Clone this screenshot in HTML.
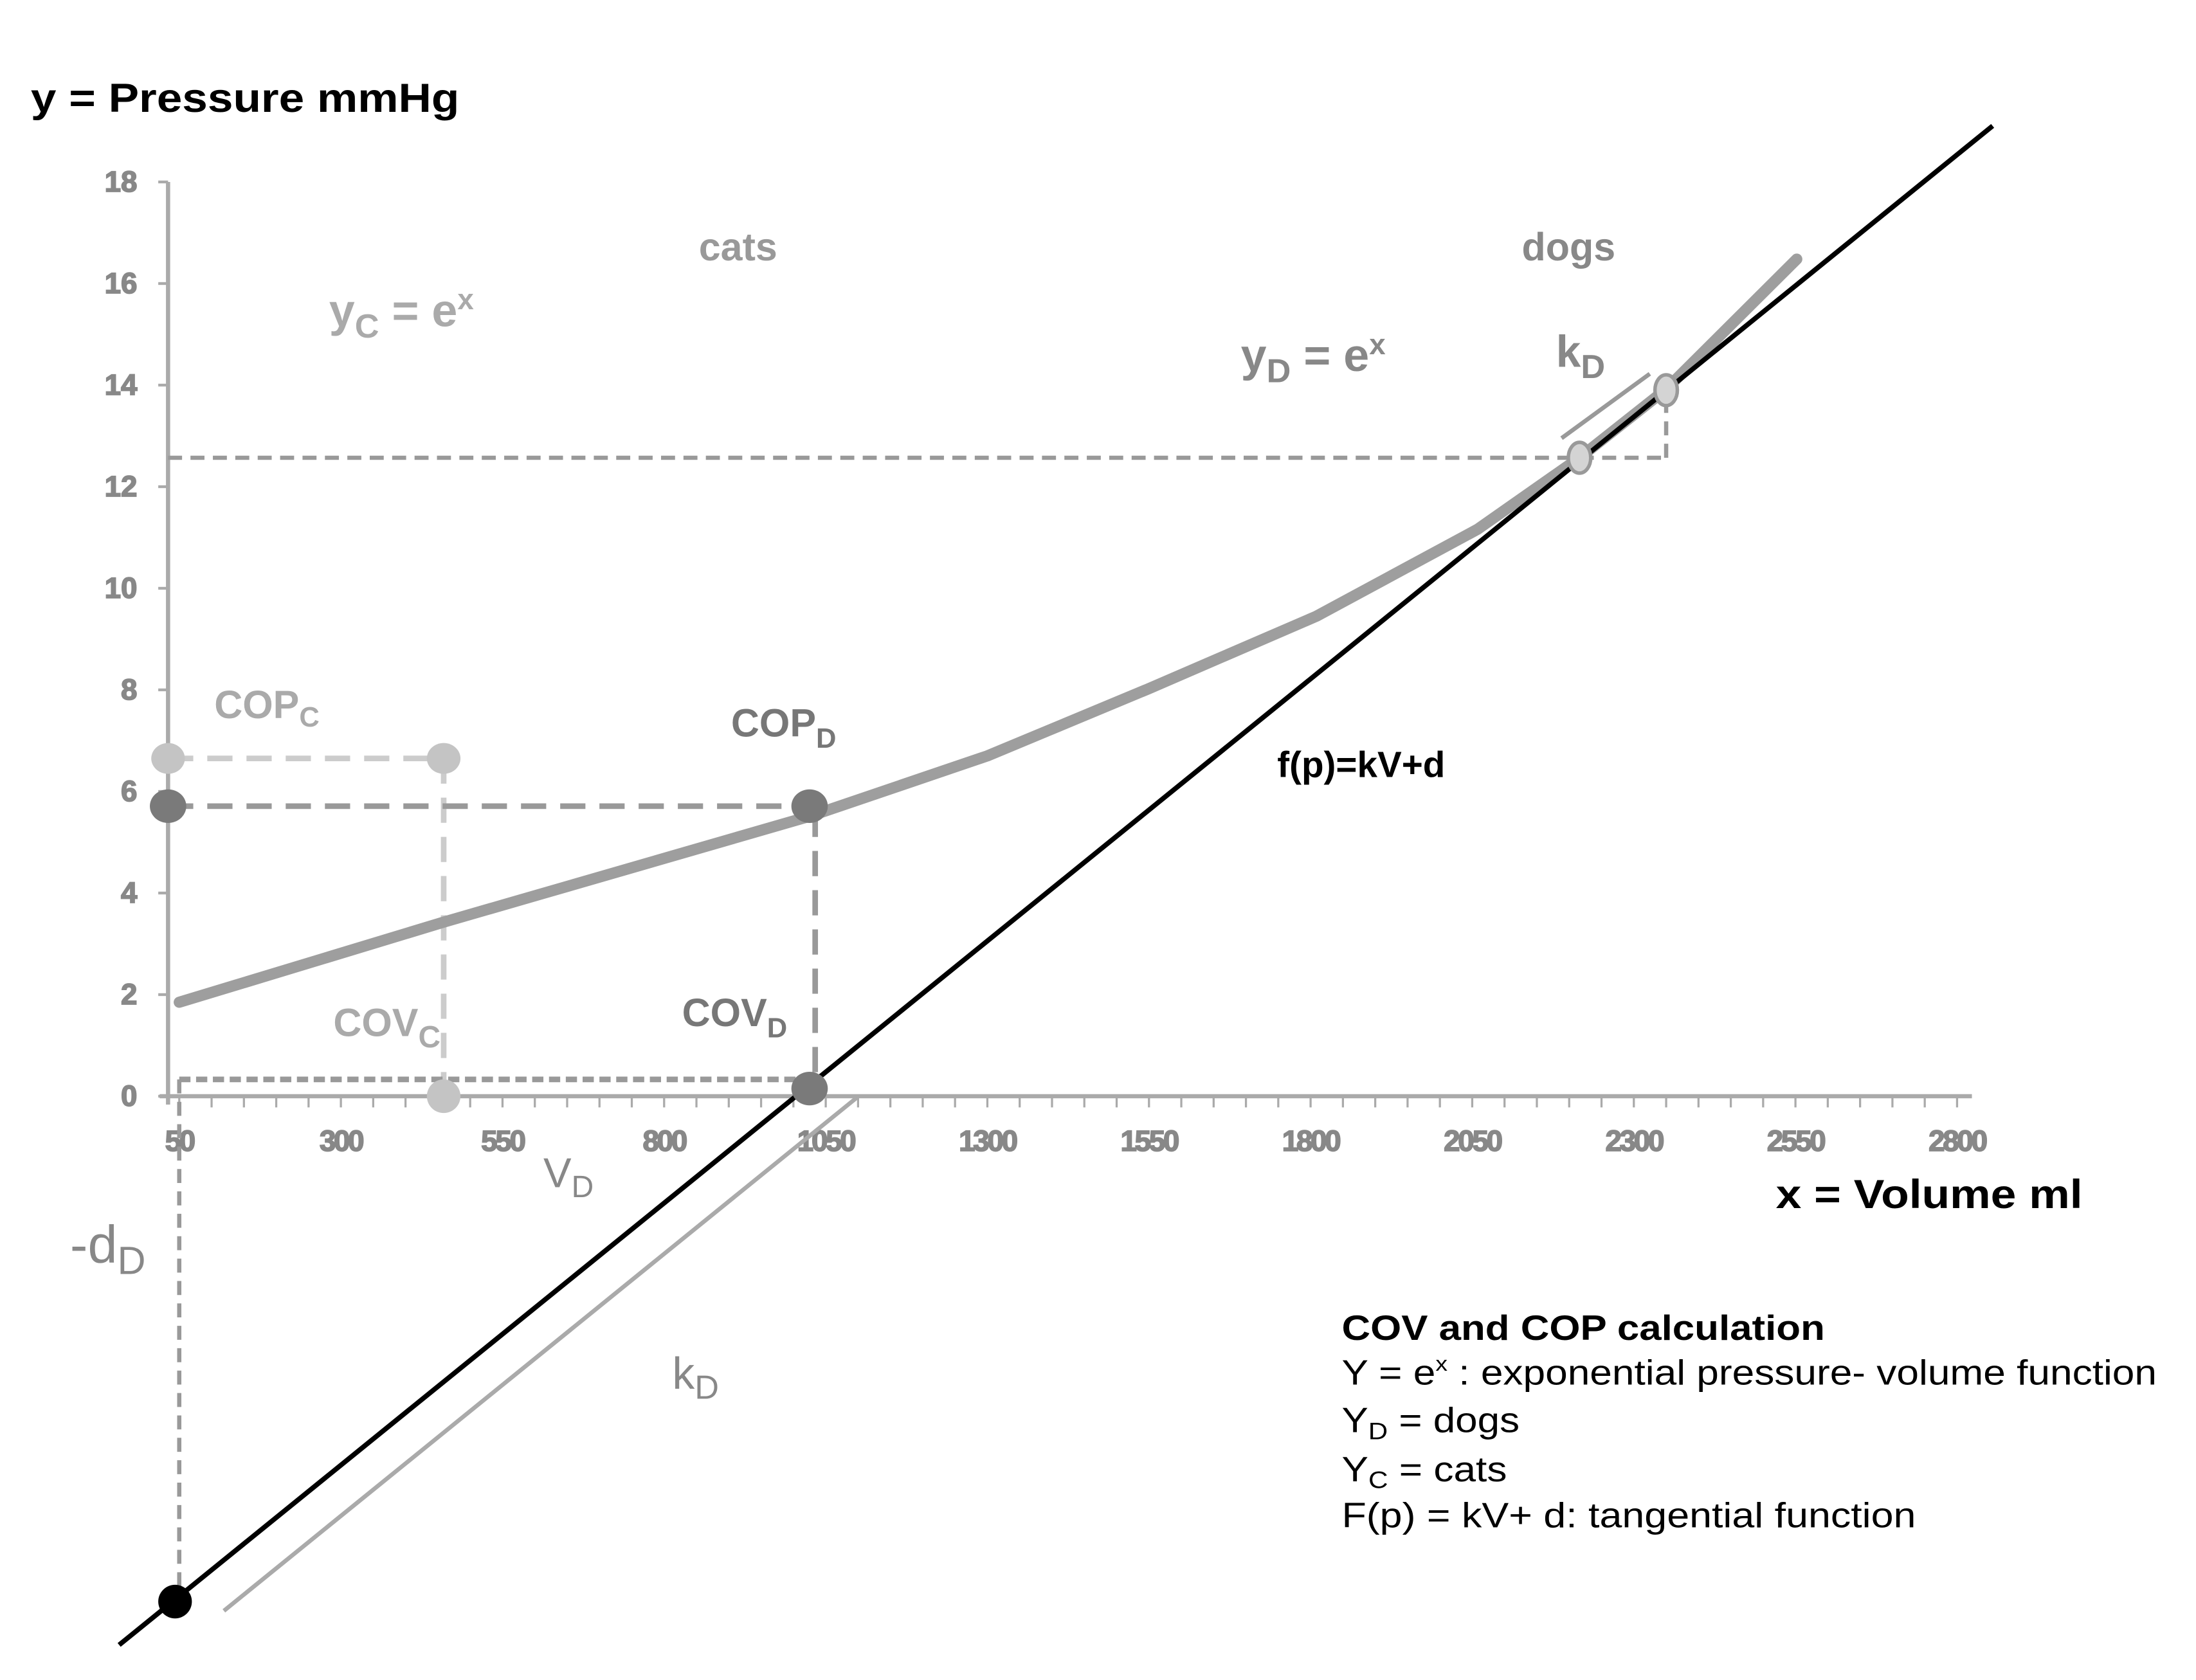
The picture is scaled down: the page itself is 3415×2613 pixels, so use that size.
<!DOCTYPE html>
<html><head><meta charset="utf-8">
<style>
html,body{margin:0;padding:0;background:#fff;}
svg{display:block;}
text{font-family:"Liberation Sans",sans-serif;}
</style></head>
<body>
<svg id="chart" width="3415" height="2613" viewBox="0 0 1568 1200" preserveAspectRatio="none" xmlns="http://www.w3.org/2000/svg">
<g id="axes"></g>
<g id="guides"></g>
<g id="series"></g>
<g id="labels">
<text x="22" y="80" font-size="29" font-weight="bold" fill="#000" textLength="306" lengthAdjust="spacingAndGlyphs">y = Pressure mmHg</text>
<text x="1268" y="863" font-size="29" font-weight="bold" fill="#000" textLength="219" lengthAdjust="spacingAndGlyphs">x = Volume ml</text>
<text x="527" y="186" font-size="28" font-weight="bold" fill="#999" text-anchor="middle">cats</text>
<text x="1120" y="186" font-size="28" font-weight="bold" fill="#888" text-anchor="middle">dogs</text>
<text x="235" y="233" font-size="33" font-weight="bold" fill="#aaa">y<tspan font-size="24" dy="8">C</tspan><tspan dy="-8"> = e</tspan><tspan font-size="21" dy="-12">x</tspan></text>
<text x="886" y="265" font-size="33" font-weight="bold" fill="#888">y<tspan font-size="24" dy="8">D</tspan><tspan dy="-8"> = e</tspan><tspan font-size="21" dy="-12">x</tspan></text>
<text x="1111" y="262" font-size="32" font-weight="bold" fill="#888">k<tspan font-size="24" dy="8">D</tspan></text>
<text x="153" y="513" font-size="28" font-weight="bold" fill="#aaa">COP<tspan font-size="20" dy="6">C</tspan></text>
<text x="522" y="526" font-size="28" font-weight="bold" fill="#777">COP<tspan font-size="20" dy="8">D</tspan></text>
<text x="912" y="555" font-size="26" font-weight="bold" fill="#000">f(p)=kV+d</text>
<text x="238" y="740" font-size="28" font-weight="bold" fill="#aaa">COV<tspan font-size="22" dy="8">C</tspan></text>
<text x="487" y="733" font-size="28" font-weight="bold" fill="#777">COV<tspan font-size="20" dy="8">D</tspan></text>
<text x="388" y="848" font-size="30" fill="#888">V<tspan font-size="22" dy="7">D</tspan></text>
<text x="50" y="902" font-size="38" fill="#888">-d<tspan font-size="28" dy="8">D</tspan></text>
<text x="480" y="992" font-size="32" fill="#888">k<tspan font-size="24" dy="7">D</tspan></text>
<g font-size="25" fill="#000">
<text x="958" y="957" font-weight="bold" textLength="345" lengthAdjust="spacingAndGlyphs">COV and COP calculation</text>
<text x="958" y="989" textLength="582" lengthAdjust="spacingAndGlyphs">Y = e<tspan font-size="15" dy="-10">x</tspan><tspan dy="10"> :  exponential pressure- volume function</tspan></text>
<text x="958" y="1023" textLength="127" lengthAdjust="spacingAndGlyphs">Y<tspan font-size="17" dy="5">D</tspan><tspan dy="-5"> = dogs</tspan></text>
<text x="958" y="1058" textLength="118" lengthAdjust="spacingAndGlyphs">Y<tspan font-size="17" dy="5">C</tspan><tspan dy="-5"> = cats</tspan></text>
<text x="958" y="1091" textLength="410" lengthAdjust="spacingAndGlyphs">F(p) = kV+ d:  tangential function</text>
</g>
</g>
</svg>
<script>
const xTicks=[50,300,550,800,1050,1300,1550,1800,2050,2300,2550,2800];
const yTicks=[0,2,4,6,8,10,12,14,16,18];
const curveVolumes=[50,457,1025,1300,1549,1809,2058,2216,2350,2552];
const curvePressures=[1.85,3.42,5.51,6.7,8.02,9.45,11.16,12.57,13.92,16.48];
const tangentK=0.01032;
const tangentD=-10.36;
const tangentRange=[-43,2855];
const parallelRange=[119,1098];
const parallelOffset=-1.0;
const copC=[459,6.65];
const copD=[1025,5.6];
const covD=[1025,0.15];
const tangentPts=[[2216,12.57],[2350,13.9]];
const ns="http://www.w3.org/2000/svg";
const X=v=>128+(v-50)*0.4616;
const Y=p=>783-p*36.28;
function mk(parent,tag,attrs){const e=document.createElementNS(ns,tag);for(const k in attrs)e.setAttribute(k,attrs[k]);document.getElementById(parent).appendChild(e);return e;}
let e=mk('axes','line',{x1:120,y1:Y(18),x2:120,y2:Y(0)+6,stroke:'#aaa','stroke-width':3});


e=mk('axes','line',{x1:114,y1:Y(0),x2:1408,y2:Y(0),stroke:'#aaa','stroke-width':3});


yTicks.forEach(t=>{
 const l=mk('axes','line',{x1:113,y1:Y(t),x2:120,y2:Y(t),stroke:'#aaa','stroke-width':2});
 
 
 const tx=mk('axes','text',{x:98,y:Y(t)+7,'font-size':21,'font-weight':'bold',fill:'#888','text-anchor':'end','stroke':'#888','stroke-width':0.8});
 tx.textContent=t;
 
 
});
for(let v=50;v<=2800;v+=50){
 const l=mk('axes','line',{x1:X(v),y1:Y(0),x2:X(v),y2:Y(0)+8,stroke:'#aaa','stroke-width':1.5});
 
 
}
xTicks.forEach(t=>{
 const tx=mk('axes','text',{x:X(t),y:822,'font-size':21,'font-weight':'bold',fill:'#888','text-anchor':'middle','letter-spacing':'-1.5','stroke':'#888','stroke-width':0.8});
 tx.textContent=t;
 
 
});
function dash(x1,y1,x2,y2,c,w,d,name){const l=mk('guides','line',{x1,y1,x2,y2,stroke:c,'stroke-width':w,'stroke-dasharray':d});}
dash(120,Y(tangentPts[0][1]),X(tangentPts[1][0]),Y(tangentPts[0][1]),'#999',3,'10 6','tangent-level-guide');
dash(X(tangentPts[1][0]),Y(tangentPts[0][1]),X(tangentPts[1][0]),Y(tangentPts[1][1]),'#999',3,'10 6','tangent-rise-guide');
dash(120,Y(copC[1]),X(copC[0]),Y(copC[1]),'#ccc',4,'18 10','copc-guide');
dash(X(copC[0]),Y(copC[1]),X(copC[0]),Y(0),'#ccc',4,'18 10','covc-guide');
dash(120,Y(copD[1])-4,X(copD[0]),Y(copD[1])-4,'#999',4,'18 10','copd-guide');
dash(X(copD[0])+4,Y(copD[1]),X(copD[0])+4,Y(0),'#999',4,'18 10','covd-guide');
dash(128,771,X(covD[0]),771,'#999',4,'8 4','vd-guide');
dash(128,771,128,1140,'#999',3,'10 6','dd-guide');
function line(v1,v2,k,d,c,w,name){const l=mk('series','line',{x1:X(v1),y1:Y(k*v1+d),x2:X(v2),y2:Y(k*v2+d),stroke:c,'stroke-width':w});}
line(parallelRange[0],parallelRange[1],tangentK,tangentD+parallelOffset,'#aaa',3,'kd-parallel-line');
let pts=curveVolumes.map((v,i)=>X(v)+','+Y(curvePressures[i])).join(' ');
e=mk('series','polyline',{points:pts,fill:'none',stroke:'#9e9e9e','stroke-width':8,'stroke-linecap':'round','stroke-linejoin':'round'});


line(tangentRange[0],tangentRange[1],tangentK,tangentD,'#000',3.5,'tangent-line');
e=mk('series','line',{x1:1115,y1:313,x2:1178,y2:267,stroke:'#999','stroke-width':3});


function dot(cx,cy,rx,ry,fill,stroke,name){const c=mk('series','ellipse',{cx,cy,rx,ry,fill,stroke:stroke||'none','stroke-width':2.5});}
dot(120,Y(copC[1]),12,11,'#c4c4c4',null,'copc-y-point');
dot(X(copC[0]),Y(copC[1]),12,11,'#c4c4c4',null,'copc-point');
dot(X(copC[0]),Y(0),12,12,'#c4c4c4',null,'covc-point');
dot(120,Y(copD[1])-4,13,12,'#7a7a7a',null,'copd-y-point');
dot(X(copD[0]),Y(copD[1])-4,13,12,'#7a7a7a',null,'copd-point');
dot(X(covD[0]),Y(covD[1]),13,12,'#7a7a7a',null,'covd-point');
dot(125,1144,12,12,'#000',null,'intercept-point');
dot(X(tangentPts[0][0]),Y(tangentPts[0][1]),8,11,'#d4d4d4','#999','tangent-point-1');
dot(X(tangentPts[1][0]),Y(tangentPts[1][1]),8,11,'#d4d4d4','#999','tangent-point-2');
</script>
</body></html>
